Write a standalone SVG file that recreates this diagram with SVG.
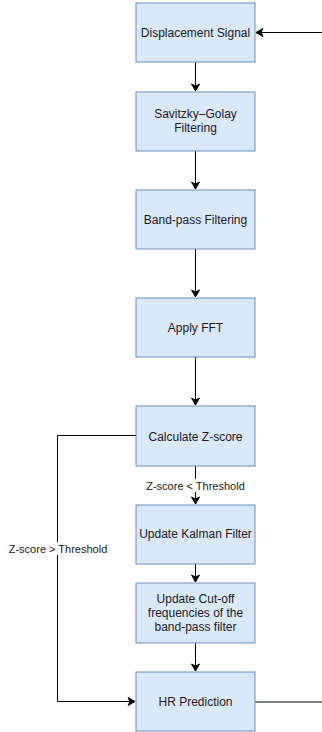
<svg xmlns="http://www.w3.org/2000/svg" width="322" height="732" viewBox="0 0 322 732">
<style>
.box{fill:#dae8fc;stroke:#6c8ebf;stroke-width:1}
.t{font-family:"Liberation Sans",Arial,sans-serif;font-size:12px;fill:#1a1a1a;text-anchor:middle;dominant-baseline:central}
.lbl{font-family:"Liberation Sans",Arial,sans-serif;font-size:11px;fill:#1a1a1a;text-anchor:middle;dominant-baseline:central}
.e{fill:none;stroke:#000;stroke-width:1}
.bg{fill:#fff}
</style>
<defs>
<marker id="arr" markerUnits="userSpaceOnUse" markerWidth="10" markerHeight="10" viewBox="0 0 10 10" refX="8" refY="5" orient="auto">
<path d="M1,1 L8,5 L1,9 L3,5 Z" fill="#000" stroke="#000" stroke-width="1" stroke-linejoin="miter"/>
</marker>
</defs>
<g id="connectors">
<path class="e" d="M322,32.5 H256" marker-end="url(#arr)"/>
<path class="e" d="M195.5,62 V91" marker-end="url(#arr)"/>
<path class="e" d="M195.5,151 V189" marker-end="url(#arr)"/>
<path class="e" d="M195.5,249 V297" marker-end="url(#arr)"/>
<path class="e" d="M195.5,357 V405" marker-end="url(#arr)"/>
<path class="e" d="M195.5,466 V504" marker-end="url(#arr)"/>
<path class="e" d="M195.5,564 V582" marker-end="url(#arr)"/>
<path class="e" d="M195.5,643 V671" marker-end="url(#arr)"/>
<path class="e" d="M136,435.5 H57.5 V701.5 H135" marker-end="url(#arr)"/>
<path class="e" d="M255,702 H322"/>
<g id="label-lt">
<rect class="bg" x="147" y="479" width="97" height="13"/>
<text class="lbl" x="195.5" y="486">Z-score &lt; Threshold</text>
</g>
<g id="label-gt">
<rect class="bg" x="9" y="542" width="98" height="13"/>
<text class="lbl" x="58" y="549">Z-score &gt; Threshold</text>
</g>
</g>
<g id="displacement">
<rect class="box" x="136" y="3" width="119" height="59"/>
<text class="t" x="195.5" y="33">Displacement Signal</text>
</g>
<g id="savgol">
<rect class="box" x="136" y="92" width="119" height="59"/>
<text class="t" x="195.5" y="114">Savitzky–Golay</text>
<text class="t" x="195.5" y="128">Filtering</text>
</g>
<g id="bandpass">
<rect class="box" x="136" y="190" width="119" height="59"/>
<text class="t" x="195.5" y="220">Band-pass Filtering</text>
</g>
<g id="fft">
<rect class="box" x="136" y="298" width="119" height="59"/>
<text class="t" x="195.5" y="328">Apply FFT</text>
</g>
<g id="zscore">
<rect class="box" x="136" y="406" width="119" height="60"/>
<text class="t" x="195.5" y="437">Calculate Z-score</text>
</g>
<g id="kalman">
<rect class="box" x="136" y="505" width="119" height="59"/>
<text class="t" x="195.5" y="534">Update Kalman Filter</text>
</g>
<g id="cutoff">
<rect class="box" x="136" y="583" width="119" height="60"/>
<text class="t" x="195.5" y="599">Update Cut-off</text>
<text class="t" x="195.5" y="613">frequencies of the</text>
<text class="t" x="195.5" y="627">band-pass filter</text>
</g>
<g id="hr">
<rect class="box" x="136" y="672" width="119" height="59"/>
<text class="t" x="195.5" y="702">HR Prediction</text>
</g>
</svg>
